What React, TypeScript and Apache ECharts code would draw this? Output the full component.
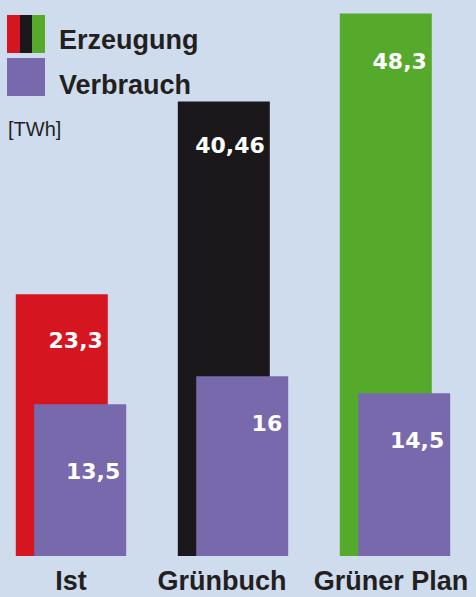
import React, { useEffect, useRef } from "react";
import * as echarts from "echarts";

const categories = ["Ist", "Grünbuch", "Grüner Plan"];
const erzeugung = [23.3, 40.46, 48.3];
const verbrauch = [13.5, 16, 14.5];
const erzeugungLabels = ["23,3", "40,46", "48,3"];
const verbrauchLabels = ["13,5", "16", "14,5"];
const legendNames = ["Erzeugung", "Verbrauch"];
const unitLabel = "[TWh]";

const RED = "#d51520";
const BLACK = "#1b181c";
const GREEN = "#55aa2b";
const PURPLE = "#7769ab";
const BG = "#cfdcee";
const TEXT = "#231f20";
const erzColors = [RED, BLACK, GREEN];

export default function App() {
  const ref = useRef<HTMLDivElement>(null);
  useEffect(() => {
    if (!ref.current) return;
    const chart = echarts.init(ref.current, undefined, { renderer: "svg" });
    const valueFont = {
      color: "#ffffff",
      fontFamily: "DejaVu Sans",
      fontWeight: "bold" as const,
      fontSize: 22,
    };
    const erzOffsets = [[0, 30], [0, 28], [0, 32]];
    const verOffsets = [[0, 50], [0, 30], [0, 30]];
    const catStyles = ["a", "b", "c"];
    const catFont = {
      color: TEXT,
      fontFamily: "Liberation Sans",
      fontWeight: "bold" as const,
      fontSize: 27,
    };
    const X = 10; // page offset of the chart div
    chart.setOption({
      animation: false,
      backgroundColor: BG,
      grid: { left: 0, right: 0, top: 0, bottom: 41, containLabel: false },
      xAxis: {
        type: "category",
        data: categories,
        axisLine: { show: false },
        axisTick: { show: false },
        axisLabel: {
          interval: 0,
          hideOverlap: false,
          margin: 11,
          formatter: (v: string, i: number) => `{${catStyles[i]}|${v}}`,
          rich: {
            a: { ...catFont, padding: [0, 0, 0, 0] },
            b: { ...catFont, padding: [0, 22, 0, 0] },
            c: { ...catFont, padding: [0, 8, 0, 0] },
          },
          ...catFont,
        },
      },
      yAxis: {
        type: "value",
        min: 0,
        max: 49.5,
        show: false,
        splitLine: { show: false },
      },
      series: [
        {
          name: legendNames[0],
          type: "bar",
          barWidth: 92,
          barGap: "-80%",
          data: erzeugung.map((v, i) => ({
            value: v,
            itemStyle: { color: erzColors[i] },
            label: { offset: erzOffsets[i] },
          })),
          label: {
            show: true,
            position: "insideTopRight",
            distance: 5,
            formatter: (p: any) => erzeugungLabels[p.dataIndex],
            ...valueFont,
          },
        },
        {
          name: legendNames[1],
          type: "bar",
          barWidth: 92,
          barGap: "-80%",
          itemStyle: { color: PURPLE },
          data: verbrauch.map((v, i) => ({
            value: v,
            label: { offset: verOffsets[i] },
          })),
          label: {
            show: true,
            position: "insideTopRight",
            distance: 6,
            formatter: (p: any) => verbrauchLabels[p.dataIndex],
            ...valueFont,
          },
        },
      ],
      graphic: [
        { type: "rect", left: X + 7, top: 15, shape: { width: 13, height: 38 }, style: { fill: RED } },
        { type: "rect", left: X + 20, top: 15, shape: { width: 12, height: 38 }, style: { fill: BLACK } },
        { type: "rect", left: X + 32, top: 15, shape: { width: 13, height: 38 }, style: { fill: GREEN } },
        { type: "rect", left: X + 7, top: 58, shape: { width: 38, height: 38 }, style: { fill: PURPLE } },
        {
          type: "text",
          left: X + 59,
          top: 26,
          style: {
            text: legendNames[0],
            fill: TEXT,
            font: "bold 27px 'Liberation Sans'",
          },
        },
        {
          type: "text",
          left: X + 59,
          top: 71,
          style: {
            text: legendNames[1],
            fill: TEXT,
            font: "bold 27px 'Liberation Sans'",
          },
        },
        {
          type: "text",
          left: X + 8,
          top: 119,
          style: {
            text: unitLabel,
            fill: TEXT,
            font: "20px 'Liberation Sans'",
          },
        },
      ],
    });
    return () => chart.dispose();
  }, []);
  return (
    <div
      ref={ref}
      style={{ position: "fixed", left: -10, top: 0, width: 486, height: 597 }}
    />
  );
}
